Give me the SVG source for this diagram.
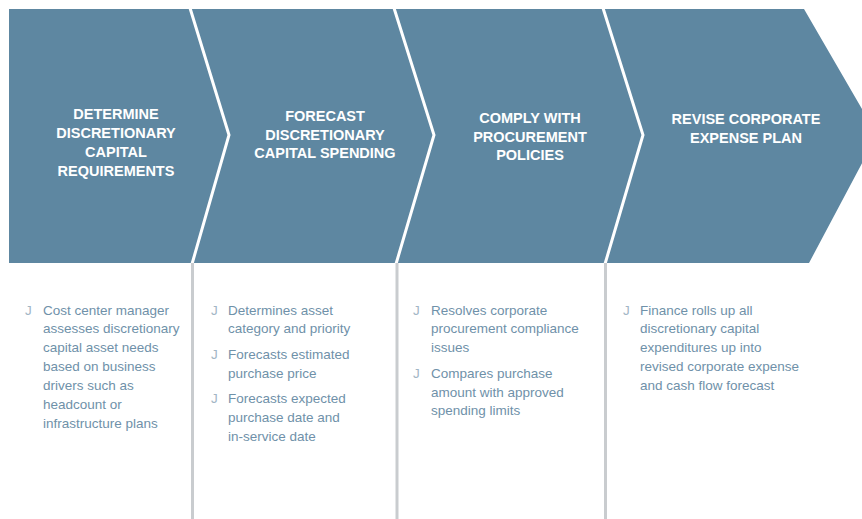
<svg xmlns="http://www.w3.org/2000/svg" width="862" height="519" viewBox="0 0 862 519">
<style>
.band{fill:#5e87a1;}
.sep{fill:none;stroke:#ffffff;stroke-width:3;}
.div{stroke:#c9cccf;stroke-width:3;}
.hd{font-family:"Liberation Sans",Arial,sans-serif;font-weight:bold;font-size:14.5px;fill:#ffffff;text-anchor:middle;}
.tx{font-family:"Liberation Sans",Arial,sans-serif;font-size:13.5px;fill:#6f91a9;}
.bl{font-family:"Liberation Sans",Arial,sans-serif;font-size:13.5px;fill:#a3b6c5;}
</style>
<rect width="862" height="519" fill="#ffffff"/>
<g id="step1">
<polygon class="band" points="9,9 190,9 229,135 192,263 9,263"/>
<text class="hd" x="116" y="119">DETERMINE</text>
<text class="hd" x="116" y="138">DISCRETIONARY</text>
<text class="hd" x="116" y="157">CAPITAL</text>
<text class="hd" x="116" y="176">REQUIREMENTS</text>
<text class="bl" x="25" y="315">J</text>
<text class="tx" x="43" y="315">Cost center manager</text>
<text class="tx" x="43" y="333">assesses discretionary</text>
<text class="tx" x="43" y="352">capital asset needs</text>
<text class="tx" x="43" y="371">based on business</text>
<text class="tx" x="43" y="390">drivers such as</text>
<text class="tx" x="43" y="409">headcount or</text>
<text class="tx" x="43" y="428">infrastructure plans</text>
</g>
<g id="step2">
<polygon class="band" points="190,9 394,9 434,135 396,263 192,263 229,135"/>
<text class="hd" x="325" y="121">FORECAST</text>
<text class="hd" x="325" y="140">DISCRETIONARY</text>
<text class="hd" x="325" y="158">CAPITAL SPENDING</text>
<text class="bl" x="211" y="315">J</text>
<text class="tx" x="228" y="315">Determines asset</text>
<text class="tx" x="228" y="333">category and priority</text>
<text class="bl" x="211" y="359">J</text>
<text class="tx" x="228" y="359">Forecasts estimated</text>
<text class="tx" x="228" y="378">purchase price</text>
<text class="bl" x="211" y="403">J</text>
<text class="tx" x="228" y="403">Forecasts expected</text>
<text class="tx" x="228" y="422">purchase date and</text>
<text class="tx" x="228" y="441">in-service date</text>
</g>
<g id="step3">
<polygon class="band" points="394,9 603,9 643,135 605,263 396,263 434,135"/>
<text class="hd" x="530" y="123">COMPLY WITH</text>
<text class="hd" x="530" y="142">PROCUREMENT</text>
<text class="hd" x="530" y="160">POLICIES</text>
<text class="bl" x="413" y="315">J</text>
<text class="tx" x="431" y="315">Resolves corporate</text>
<text class="tx" x="431" y="333">procurement compliance</text>
<text class="tx" x="431" y="352">issues</text>
<text class="bl" x="413" y="378">J</text>
<text class="tx" x="431" y="378">Compares purchase</text>
<text class="tx" x="431" y="397">amount with approved</text>
<text class="tx" x="431" y="415">spending limits</text>
</g>
<g id="step4">
<polygon class="band" points="603,9 804,9 877,135 809,263 605,263 643,135"/>
<text class="hd" x="746" y="124">REVISE CORPORATE</text>
<text class="hd" x="746" y="143">EXPENSE PLAN</text>
<text class="bl" x="623" y="315">J</text>
<text class="tx" x="640" y="315">Finance rolls up all</text>
<text class="tx" x="640" y="333">discretionary capital</text>
<text class="tx" x="640" y="352">expenditures up into</text>
<text class="tx" x="640" y="371">revised corporate expense</text>
<text class="tx" x="640" y="390">and cash flow forecast</text>
</g>
<g id="connectors">
<polyline class="sep" points="190,8 229,135 192,264"/>
<polyline class="sep" points="394,8 434,135 396,264"/>
<polyline class="sep" points="603,8 643,135 605,264"/>
<line class="div" x1="192.5" y1="263" x2="192.5" y2="519"/>
<line class="div" x1="397" y1="263" x2="397" y2="519"/>
<line class="div" x1="605.5" y1="263" x2="605.5" y2="519"/>
</g>
</svg>
